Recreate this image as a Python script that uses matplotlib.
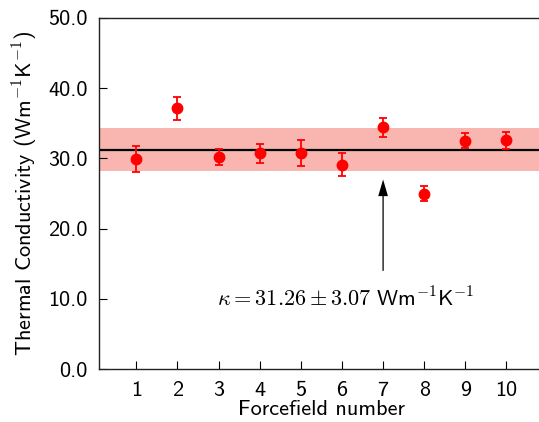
"Thermal conductivity per forcefield"

import matplotlib
matplotlib.use("Agg")
import matplotlib.pyplot as plt
import numpy as np

plt.rcParams['font.family'] = ['cmss10', 'DejaVu Sans']
plt.rcParams['mathtext.fontset'] = 'cm'
plt.rcParams['axes.formatter.use_mathtext'] = False

# values
forcefields = [1, 2, 3, 4, 5, 6, 7, 8, 9, 10]
kappa = [29.9, 37.1, 30.2, 30.7, 30.8, 29.1, 34.4, 25.0, 32.5, 32.6]
kappa_err = [1.85, 1.65, 1.15, 1.3, 1.85, 1.6, 1.4, 1.05, 1.05, 1.2]
kappa_mean = 31.26
kappa_std = 3.07
yticks = [0, 10, 20, 30, 40, 50]

fig = plt.figure(figsize=(5.39, 4.22), dpi=100)
ax = fig.add_axes([0.1843, 0.1249, 0.824, 0.833])

ax.axhspan(kappa_mean - kappa_std, kappa_mean + kappa_std, color='#f9b5b0', lw=0, zorder=1)
ax.axhline(kappa_mean, color='black', lw=1.6, zorder=2)
ax.errorbar(forcefields, kappa, yerr=kappa_err, fmt='o', color='red', ms=7.5,
            elinewidth=1.3, capsize=2.6, capthick=1.3, zorder=3)

ax.annotate("", xy=(7, 27.0), xytext=(7, 14.0),
            arrowprops=dict(facecolor='black', edgecolor='none', width=0.9,
                            headwidth=7, headlength=12, shrink=0))
ax.text(6.1, 10.1, r"$\kappa = \mathsf{31.26} \pm \mathsf{3.07}\ \mathsf{Wm}^{\mathsf{-1}}\mathsf{K}^{\mathsf{-1}}$",
        ha='center', va='center', fontsize=16)

ax.set_xlim(0.1, 10.9)
ax.set_ylim(0, 50)
ax.set_xticks(forcefields)
ax.set_yticks(yticks)
ax.set_yticklabels(["%.1f" % v for v in yticks])
ax.tick_params(direction='in', length=5.5, width=0.8, labelsize=16, top=False, right=False, pad=8.5)
ax.spines['right'].set_visible(False)
for s in ['left', 'bottom', 'top']:
    ax.spines[s].set_linewidth(1.0)
    ax.spines[s].set_color('#222222')

ax.set_xlabel("Forcefield number", fontsize=16, labelpad=0)
ax.set_ylabel(r"Thermal Conductivity (Wm$^{\mathsf{-1}}$K$^{\mathsf{-1}}$)", fontsize=16, labelpad=6)

fig.savefig("out.png", dpi=100)
